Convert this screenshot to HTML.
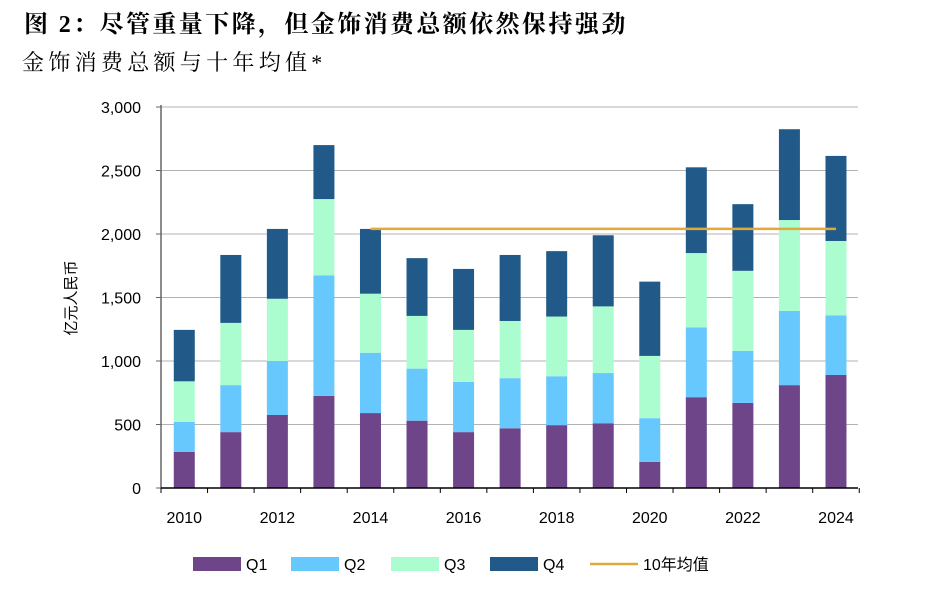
<!DOCTYPE html>
<html><head><meta charset="utf-8"><style>
body{margin:0;background:#fff;width:929px;height:595px;overflow:hidden;font-family:"Liberation Sans","Noto Sans CJK SC",sans-serif;}
svg{position:absolute;left:0;top:0}
</style></head><body>
<svg width="929" height="595" id="chart">
<text x="24" y="32" font-size="24" font-weight="bold" letter-spacing="2.4" font-family="'Liberation Serif','Noto Serif CJK SC',serif">图 2：尽管重量下降，但金饰消费总额依然保持强劲</text>
<text x="22" y="70" font-size="22" letter-spacing="4.3" font-family="'Liberation Serif','Noto Serif CJK SC',serif">金饰消费总额与十年均值*</text>
<text transform="translate(76,298) rotate(-90)" text-anchor="middle" font-size="15">亿元人民币</text>
<g id="grid"></g><g id="bars"></g><g id="axes"></g><g id="legend"></g>
</svg>
<script>
const years=[2010,2011,2012,2013,2014,2015,2016,2017,2018,2019,2020,2021,2022,2023,2024];
const q1=[285,440,575,725,590,530,440,470,495,510,205,715,670,810,890];
const q2=[235,370,425,950,475,410,395,395,385,395,345,550,410,585,470];
const q3=[320,490,490,600,465,415,410,450,470,525,490,585,630,715,585];
const q4=[405,535,550,425,510,455,480,520,515,560,585,675,525,715,670];
const avgValue=2040;
const avgStartYear=2014;
const yTicks=[0,500,1000,1500,2000,2500,3000];
const yTickLabels=["0","500","1,000","1,500","2,000","2,500","3,000"];
const xLabelYears=[2010,2012,2014,2016,2018,2020,2022,2024];
const NS="http://www.w3.org/2000/svg";
const x0=161,step=46.55,y0=488,yTop=107,maxV=3000,bw=21;
const yS=v=>y0-(v/maxV)*(y0-yTop);
const xC=i=>x0+step*(i+0.5);
function mk(tag,attrs,parent){const e=document.createElementNS(NS,tag);for(const k in attrs)e.setAttribute(k,attrs[k]);document.getElementById(parent).appendChild(e);return e;}
yTicks.forEach((v,i)=>{
 if(v>0){const g=mk('line',{x1:x0,x2:858,y1:yS(v),y2:yS(v),stroke:'#b3b3b3','stroke-width':1},'grid');
 
 }
 const t=mk('text',{x:141,y:yS(v)+6,'text-anchor':'end','font-size':16},'axes');t.textContent=yTickLabels[i];
 
 
});
const series=[[q1,'#6f4589','q1'],[q2,'#66c8fc','q2'],[q3,'#abfdcf','q3'],[q4,'#215a88','q4']];
years.forEach((yr,i)=>{
 let cum=0;
 series.forEach(([arr,col,nm])=>{
  const top=cum+arr[i];
  const r=mk('rect',{x:xC(i)-bw/2,y:yS(top),width:bw,height:yS(cum)-yS(top),fill:col},'bars');
  
  
  cum=top;
 });
});
const si=years.indexOf(avgStartYear);
const al=mk('line',{x1:xC(si),x2:xC(years.length-1),y1:yS(avgValue),y2:yS(avgValue),stroke:'#e0a93c','stroke-width':2.5},'bars');


const ax=mk('line',{x1:x0,x2:x0,y1:yTop-2,y2:y0,stroke:'#666','stroke-width':1.5},'axes');


const bx=mk('line',{x1:x0,x2:858,y1:y0,y2:y0,stroke:'#000','stroke-width':1.5},'axes');


yTicks.forEach(v=>{const t=mk('line',{x1:x0-5,x2:x0,y1:yS(v),y2:yS(v),stroke:'#666'},'axes');
 
 });
for(let i=0;i<=years.length;i++){const t=mk('line',{x1:x0+step*i,x2:x0+step*i,y1:y0,y2:y0+5,stroke:'#000'},'axes');
 
 }
xLabelYears.forEach(yr=>{const i=years.indexOf(yr);const t=mk('text',{x:xC(i),y:523,'text-anchor':'middle','font-size':16},'axes');t.textContent=yr;
 
 });
const leg=[['Q1','#6f4589',193],['Q2','#66c8fc',291],['Q3','#abfdcf',391],['Q4','#215a88',490]];
leg.forEach(([n,c,x])=>{
 const r=mk('rect',{x:x,y:557,width:48,height:14,fill:c},'legend');
 
 
 const t=mk('text',{x:x+53,y:570,'font-size':16},'legend');t.textContent=n;
 
 
});
const ll=mk('line',{x1:590,x2:638,y1:564,y2:564,stroke:'#e0a93c','stroke-width':2.5},'legend');


const lt=mk('text',{x:643,y:570,'font-size':16},'legend');lt.textContent='10年均值';


</script>
</body></html>
